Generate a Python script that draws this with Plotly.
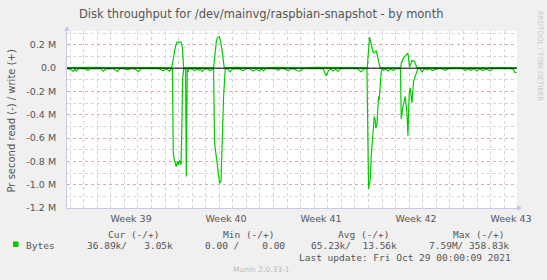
import plotly.graph_objects as go
import pandas as pd

# ---------------- data ----------------
base_time = "2021-09-27 00:00"

# read (-) : hours since base_time, value in kB/s (shown negative)
read_hours = [-29, -24, -18, -15, -13, -9, -3, 3, 8, 12, 18, 24, 30, 35, 40, 46, 52, 60, 64, 70, 79, 84, 90, 97,
              102, 108, 114, 120, 126, 132, 141, 146, 152, 155, 157,
              158.6, 160.4, 163.9, 166.2, 168.0, 169.8, 172.3, 173.7, 175.1, 176.9, 180.4, 181.6, 183.4, 184.6, 186.1,
              188, 192, 197, 200, 203, 206, 210, 214, 218, 224, 228, 229.9,
              231.7, 235.9, 237.7, 240.5, 243.0, 244.8, 247.6, 250.6,
              254, 259, 264, 270, 276, 282, 288, 294, 300, 306, 312, 315, 318, 322, 328, 334, 338, 344, 348, 354,
              362, 366, 372, 378, 383, 388, 394, 400, 406, 412, 418, 424, 429, 433, 437, 441, 446, 450, 454, 460,
              466, 472, 478, 484, 491, 496, 501.2,
              504.1, 507.1, 508.8, 510.6, 512.3, 514.1, 515.8, 517.1, 518.9, 520.7, 521.7, 522.9, 524.7, 526.5, 528.3,
              531, 535, 539, 543, 548, 552, 556, 560.5,
              561.9, 564.9, 568.9, 571.9, 573.7, 576.0, 577.8, 580.8, 583.6, 586.6, 589.2, 591.1,
              595, 599, 603, 608, 612, 617, 622, 628, 634, 640, 645, 652, 658, 664, 670, 676, 680, 685, 690, 696,
              700, 706, 712, 719, 724, 730, 736, 742, 748, 754, 760, 763, 766]
read_k = [4, 8, 28, 6, 25, 3, 5, 4, 20, 3, 6, 4, 3, 25, 4, 6, 3, 28, 4, 5, 15, 3, 6, 30,
          4, 5, 3, 6, 4, 3, 22, 4, 25, 5, 8,
          729, 786, 844, 801, 829, 792, 829, 529, 100, 6, 6, 929, 6, 32, 5,
          4, 10, 23, 6, 18, 5, 28, 6, 4, 20, 5, 5,
          643, 814, 898, 986, 972, 615, 243, 6,
          4, 32, 5, 6, 4, 23, 5, 3, 25, 8, 24, 4, 23, 5, 4, 6, 3, 18, 5, 4,
          23, 4, 6, 22, 25, 5, 4, 6, 3, 5, 4, 6, 66, 22, 6, 25, 8, 28, 5, 4,
          6, 3, 5, 4, 32, 5, 5,
          1037, 958, 758, 615, 501, 415, 443, 515, 486, 372, 243, 272, 143, 29, 5,
          20, 8, 25, 6, 22, 5, 4, 5,
          436, 329, 243, 372, 580, 214, 171, 298, 115, 72, 15, 5,
          4, 32, 5, 15, 4, 20, 10, 4, 5, 18, 4, 6, 3, 5, 4, 20, 6, 18, 5, 24,
          4, 20, 6, 22, 5, 4, 6, 3, 5, 4, 8, 38, 37]

# write (+) : hours since base_time, value in kB/s
write_hours = [-29, -12, 6, 24, 42, 60, 78, 96, 114, 132, 150, 156,
               157.4, 160.4, 162.7, 165.2, 172.3, 174.6, 176.9,
               190, 210, 229.9,
               234.7, 236.5, 240.0, 241.8, 245.3, 248.8,
               266, 284, 302, 320, 338, 356, 374, 392, 410, 428, 446, 464, 482, 501.7,
               505.8, 508.8, 511.8, 514.1, 516.4, 517.7, 518.9, 520.0, 522.1, 524.8,
               540, 558, 561.0,
               561.9, 565.9, 570.7, 573.7, 576.6, 580.8, 585.4, 589.6,
               606, 624, 642, 660, 678, 696, 714, 732, 750, 766]
write_k = [4, 6, 3, 8, 4, 5, 3, 7, 4, 5, 3, 4,
           45, 142, 191, 223, 223, 185, 3,
           5, 4, 3,
           225, 260, 271, 243, 140, 3,
           6, 4, 5, 3, 7, 4, 5, 3, 6, 4, 5, 3, 4, 2,
           266, 208, 142, 131, 148, 151, 123, 88, 54, 3,
           5, 4, 3,
           43, 86, 114, 129, 11, 65, 57, 3,
           5, 4, 6, 3, 5, 4, 3, 5, 4, 3]

week_labels = ["Week 39", "Week 40", "Week 41", "Week 42", "Week 43"]
week_label_times = ["2021-09-30 12:00", "2021-10-07 12:00", "2021-10-14 12:00",
                    "2021-10-21 12:00", "2021-10-28 12:00"]
week_starts = ["2021-09-27", "2021-10-04", "2021-10-11", "2021-10-18", "2021-10-25"]
x_range = ["2021-09-25 18:36", "2021-10-28 22:40"]

y_tickvals = [200000, 0, -200000, -400000, -600000, -800000, -1000000, -1200000]
y_ticktext = ["0.2 M", "0.0", "-0.2 M", "-0.4 M", "-0.6 M", "-0.8 M", "-1.0 M", "-1.2 M"]
y_range = [-1200000, 319000]

legend_headers = ["Cur (-/+)", "Min (-/+)", "Avg (-/+)", "Max (-/+)"]
legend_values = ["36.89k/   3.05k", "0.00 /    0.00", "65.23k/  13.56k", "7.59M/ 358.83k"]
series_name = "Bytes"
last_update = "Last update: Fri Oct 29 00:00:09 2021"
title_text = "Disk throughput for /dev/mainvg/raspbian-snapshot - by month"
y_title = "Pr second read (-) / write (+)"

# ---------------- build ----------------
t0 = pd.Timestamp(base_time)
read_t = [t0 + pd.Timedelta(hours=h) for h in read_hours]
write_t = [t0 + pd.Timedelta(hours=h) for h in write_hours]
read_v = [-v * 1000 for v in read_k]
write_v = [v * 1000 for v in write_k]

GREEN = "#00CC00"
W, H = 547, 280
ML, MR, MT, MB = 67, 30, 31, 72
PW, PH = W - ML - MR, H - MT - MB


def xp(px):
    return (px - ML) / PW


def yp(py):
    return (H - MB - py) / PH


fig = go.Figure()
fig.add_trace(go.Scatter(x=read_t, y=read_v, mode="lines",
                         line=dict(color=GREEN, width=1.2), hoverinfo="skip", showlegend=False))
fig.add_trace(go.Scatter(x=write_t, y=write_v, mode="lines",
                         line=dict(color=GREEN, width=1.2), hoverinfo="skip", showlegend=False))

GRID_MINOR = "#d4d4d4"
GRID_MAJOR = "#e8a8a8"
AXIS = "#c8c8ee"
TXT = "#555555"
FONT = "DejaVu Sans"
MONO = "DejaVu Sans Mono"

shapes = []
for ws in week_starts:
    shapes.append(dict(type="line", xref="x", yref="paper", x0=ws, x1=ws, y0=0, y1=1,
                       line=dict(color=GRID_MAJOR, width=1, dash="dot"), layer="below"))
# zero rule
shapes.append(dict(type="line", xref="paper", yref="y", x0=0, x1=1, y0=0, y1=0,
                   line=dict(color="black", width=1), layer="above"))
# axis arrows
shapes.append(dict(type="path", xref="paper", yref="paper", xsizemode="pixel", ysizemode="pixel",
                   xanchor=0, yanchor=1, path="M -3,0 L 3,0 L 0,5 Z",
                   fillcolor=AXIS, line=dict(width=0)))
shapes.append(dict(type="path", xref="paper", yref="paper", xsizemode="pixel", ysizemode="pixel",
                   xanchor=1, yanchor=0, path="M 0,-3 L 0,3 L 5,0 Z",
                   fillcolor=AXIS, line=dict(width=0)))
# legend swatch
shapes.append(dict(type="rect", xref="paper", yref="paper",
                   x0=xp(13), x1=xp(18.5), y0=yp(247), y1=yp(241.5),
                   fillcolor=GREEN, line=dict(width=0)))

ann = []
ann.append(dict(text=title_text, x=xp(261), y=yp(14), xref="paper", yref="paper",
                showarrow=False, xanchor="center", yanchor="middle",
                font=dict(family=FONT, size=11.5, color=TXT)))
ann.append(dict(text=y_title, x=xp(11), y=yp(121.5), xref="paper", yref="paper",
                showarrow=False, xanchor="center", yanchor="middle", textangle=-90,
                font=dict(family=FONT, size=10, color=TXT)))
ann.append(dict(text="RRDTOOL / TOBI OETIKER", x=xp(540), y=yp(56), xref="paper", yref="paper",
                showarrow=False, xanchor="center", yanchor="middle", textangle=90,
                font=dict(family=FONT, size=7, color="#c8c8c8")))
hdr_x = [107, 222, 337, 452]
for hx, hdr in zip(hdr_x, legend_headers):
    ann.append(dict(text=hdr, x=xp(hx), y=yp(234), xref="paper", yref="paper",
                    showarrow=False, xanchor="left", yanchor="middle",
                    font=dict(family=MONO, size=9.5, color=TXT)))
ann.append(dict(text=series_name, x=xp(25), y=yp(245.5), xref="paper", yref="paper",
                showarrow=False, xanchor="left", yanchor="middle",
                font=dict(family=MONO, size=9.5, color=TXT)))
val_x = [86, 204, 310, 428]
for vx, val in zip(val_x, legend_values):
    ann.append(dict(text=val.replace(" ", "&nbsp;"), x=xp(vx), y=yp(245.5), xref="paper", yref="paper",
                    showarrow=False, xanchor="left", yanchor="middle",
                    font=dict(family=MONO, size=9.5, color=TXT)))
ann.append(dict(text=last_update, x=xp(298), y=yp(257.5), xref="paper", yref="paper",
                showarrow=False, xanchor="left", yanchor="middle",
                font=dict(family=MONO, size=9.5, color=TXT)))
ann.append(dict(text="Munin 2.0.33-1", x=xp(261.5), y=yp(269.5), xref="paper", yref="paper",
                showarrow=False, xanchor="center", yanchor="middle",
                font=dict(family=FONT, size=7.5, color="#bbbbbb")))
for a in ann:
    a["borderpad"] = 0

fig.update_layout(
    width=W, height=H, margin=dict(l=ML, r=MR, t=MT, b=MB, pad=0),
    paper_bgcolor="#F0F0F0", plot_bgcolor="#FFFFFF",
    showlegend=False, shapes=shapes, annotations=ann,
    xaxis=dict(type="date", range=x_range, tickmode="array", tickvals=week_label_times,
               ticktext=week_labels, showgrid=False, zeroline=False,
               showline=True, linecolor=AXIS, linewidth=1, ticks="", ticklabelstandoff=2,
               tickfont=dict(family=FONT, size=9.5, color=TXT),
               minor=dict(tickmode="linear", tick0="2021-09-26", dtick=86400000,
                          showgrid=True, gridcolor=GRID_MINOR, griddash="dot", gridwidth=1)),
    yaxis=dict(range=y_range, tickmode="array", tickvals=y_tickvals, ticktext=y_ticktext,
               showgrid=True, gridcolor=GRID_MAJOR, griddash="dot", gridwidth=1,
               zeroline=False, showline=True, linecolor=AXIS, linewidth=1, ticks="",
               ticklabelstandoff=8,
               tickfont=dict(family=FONT, size=9.5, color=TXT),
               minor=dict(tickmode="linear", tick0=0, dtick=100000,
                          showgrid=True, gridcolor=GRID_MINOR, griddash="dot", gridwidth=1)),
)

fig.write_html("out.html")
